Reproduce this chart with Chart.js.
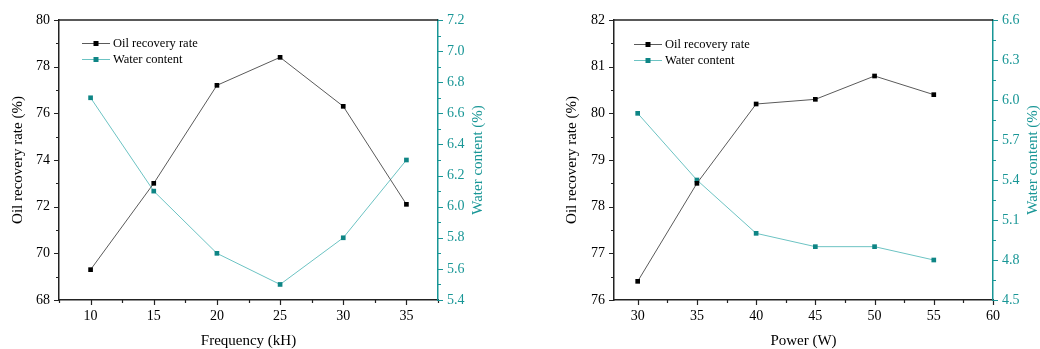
<!DOCTYPE html>
<html>
<head>
<meta charset="utf-8">
<script src="https://cdn.jsdelivr.net/npm/chart.js@4.4.1/dist/chart.umd.min.js"></script>
<style>
  body { margin: 0; background: #fff; }
  .wrap { display: flex; width: 1040px; height: 349px; }
  canvas { display: block; }
</style>
</head>
<body>
<div class="wrap">
  <canvas id="chartFreq" width="520" height="349"></canvas>
  <canvas id="chartPower" width="520" height="349"></canvas>
</div>
<script>
// 데이터 ---------------------------------------------------------------
const freq = [10, 15, 20, 25, 30, 35];
const oilFreq = [69.3, 73.0, 77.2, 78.4, 76.3, 72.1];
const waterFreq = [6.7, 6.1, 5.7, 5.5, 5.8, 6.3];

const power = [30, 35, 40, 45, 50, 55];
const oilPower = [76.4, 78.5, 80.2, 80.3, 80.8, 80.4];
const waterPower = [5.9, 5.4, 5.0, 4.9, 4.9, 4.8];

// tick labels (major) and minor tick marks
const freqTicks = [10, 15, 20, 25, 30, 35];
const freqMinor = [7.5, 12.5, 17.5, 22.5, 27.5, 32.5, 37.5];
const oilFreqTicks = [68, 70, 72, 74, 76, 78, 80];
const oilFreqMinor = [69, 71, 73, 75, 77, 79];
const waterFreqTicks = [5.4, 5.6, 5.8, 6.0, 6.2, 6.4, 6.6, 6.8, 7.0, 7.2];
const waterFreqMinor = [5.5, 5.7, 5.9, 6.1, 6.3, 6.5, 6.7, 6.9, 7.1];

const powerTicks = [30, 35, 40, 45, 50, 55, 60];
const powerMinor = [32.5, 37.5, 42.5, 47.5, 52.5, 57.5];
const oilPowerTicks = [76, 77, 78, 79, 80, 81, 82];
const oilPowerMinor = [76.5, 77.5, 78.5, 79.5, 80.5, 81.5];
const waterPowerTicks = [4.5, 4.8, 5.1, 5.4, 5.7, 6.0, 6.3, 6.6];
const waterPowerMinor = [4.65, 4.95, 5.25, 5.55, 5.85, 6.15, 6.45];

const TEAL = '#189696';
const TEAL_MARK = '#0e8585';
const TEAL_LINE = '#6cc3c3';
const FONT = "'Liberation Serif', 'Times New Roman', serif";

// 눈금, 테두리, 범례, 오른쪽 축 제목 그리기
const decorations = {
  id: 'decorations',
  afterDraw(chart, args, opts) {
    const ctx = chart.ctx;
    const a = chart.chartArea;
    ctx.save();

    // top frame
    ctx.lineWidth = 1.5;
    ctx.strokeStyle = '#222';
    ctx.beginPath();
    ctx.moveTo(a.left, Math.round(a.top));
    ctx.lineTo(a.right, Math.round(a.top));
    ctx.stroke();

    // tick marks
    ctx.lineWidth = 1.2;
    const drawMarks = (scale, values, len, color) => {
      ctx.strokeStyle = color;
      ctx.beginPath();
      for (const v of values) {
        const p = Math.round(scale.getPixelForValue(v)) + 0.5;
        if (scale.axis === 'x') {
          ctx.moveTo(p, a.bottom);
          ctx.lineTo(p, a.bottom + len);
        } else if (scale.position === 'left') {
          ctx.moveTo(a.left, p);
          ctx.lineTo(a.left - len, p);
        } else {
          ctx.moveTo(a.right, p);
          ctx.lineTo(a.right + len, p);
        }
      }
      ctx.stroke();
    };
    for (const m of opts.marks) {
      const s = chart.scales[m.id];
      drawMarks(s, m.major, 5, m.color);
      drawMarks(s, m.minor, 3, m.color);
    }

    // legend
    ctx.lineWidth = 1;
    ctx.font = '12.5px ' + FONT;
    ctx.textBaseline = 'middle';
    chart.data.datasets.forEach((ds, i) => {
      const y = opts.legend.y + i * 16;
      const x = opts.legend.x;
      ctx.strokeStyle = ds.borderColor;
      ctx.beginPath();
      ctx.moveTo(x, y + 0.5);
      ctx.lineTo(x + 28, y + 0.5);
      ctx.stroke();
      ctx.fillStyle = ds.pointBackgroundColor;
      ctx.fillRect(x + 11.5, y - 2, 5, 5);
      ctx.fillStyle = '#000';
      ctx.textAlign = 'left';
      ctx.fillText(ds.label, x + 31, y + 1);
    });

    // right axis title (bottom to top)
    ctx.fillStyle = TEAL;
    ctx.font = '15px ' + FONT;
    ctx.textAlign = 'center';
    ctx.textBaseline = 'middle';
    ctx.translate(opts.rightTitle.x, (a.top + a.bottom) / 2);
    ctx.rotate(-Math.PI / 2);
    ctx.fillText(opts.rightTitle.text, 0, 0);
    ctx.restore();
  }
};

function makeChart(id, cfg) {
  const toXY = (xs, ys) => xs.map((x, i) => ({ x: x, y: ys[i] }));
  const fixTicks = (vals) => (s) => { s.ticks = vals.map(v => ({ value: v })); };
  const fitW = (w) => (s) => { s.width = w; };

  return new Chart(document.getElementById(id), {
    type: 'line',
    data: {
      datasets: [{
        label: 'Oil recovery rate',
        data: toXY(cfg.x, cfg.oil),
        yAxisID: 'y',
        borderColor: '#5a5a5a',
        borderWidth: 1,
        pointStyle: 'rect',
        pointRadius: 3.3,
        pointBackgroundColor: '#000',
        pointBorderWidth: 0,
        tension: 0,
      }, {
        label: 'Water content',
        data: toXY(cfg.x, cfg.water),
        yAxisID: 'y2',
        borderColor: TEAL_LINE,
        borderWidth: 1,
        pointStyle: 'rect',
        pointRadius: 3.3,
        pointBackgroundColor: TEAL_MARK,
        pointBorderWidth: 0,
        tension: 0,
      }]
    },
    options: {
      responsive: false,
      animation: false,
      layout: { padding: { top: 20, left: 0, right: 0, bottom: 0 } },
      plugins: {
        legend: { display: false },
        tooltip: { enabled: false },
        decorations: {
          legend: cfg.legend,
          rightTitle: { x: cfg.rightTitleX, text: 'Water content (%)' },
          marks: [
            { id: 'x', major: cfg.xTicks, minor: cfg.xMinor, color: '#222' },
            { id: 'y', major: cfg.yTicks, minor: cfg.yMinor, color: '#222' },
            { id: 'y2', major: cfg.y2Ticks, minor: cfg.y2Minor, color: TEAL },
          ]
        }
      },
      scales: {
        x: {
          type: 'linear',
          min: cfg.xMin, max: cfg.xMax,
          afterBuildTicks: fixTicks(cfg.xTicks),
          afterFit: (s) => { s.height = 49; },
          grid: { display: false, drawTicks: false },
          border: { display: true, color: '#222', width: 1.5 },
          ticks: {
            autoSkip: false, maxRotation: 0, padding: 8,
            color: '#000', font: { family: FONT, size: 14 }
          },
          title: {
            display: true, text: cfg.xTitle, color: '#000',
            font: { family: FONT, size: 15, lineHeight: 1 },
            padding: { top: 0, bottom: 0 }
          }
        },
        y: {
          position: 'left',
          min: cfg.yMin, max: cfg.yMax,
          afterBuildTicks: fixTicks(cfg.yTicks),
          afterFit: fitW(cfg.yWidth),
          grid: { display: false, drawTicks: false },
          border: { display: true, color: '#222', width: 1.5 },
          ticks: {
            autoSkip: false, padding: 9,
            color: '#000', font: { family: FONT, size: 14 }
          },
          title: {
            display: true, text: 'Oil recovery rate (%)', color: '#000',
            font: { family: FONT, size: 15, lineHeight: 1.2 },
            padding: { top: cfg.yTitlePad, bottom: 0 }
          }
        },
        y2: {
          position: 'right',
          min: cfg.y2Min, max: cfg.y2Max,
          afterBuildTicks: fixTicks(cfg.y2Ticks),
          afterFit: fitW(cfg.y2Width),
          grid: { display: false, drawTicks: false },
          border: { display: true, color: TEAL, width: 1.5 },
          ticks: {
            autoSkip: false, padding: 9,
            color: TEAL, font: { family: FONT, size: 14 },
            callback: (v) => Number(v).toFixed(1)
          }
        }
      }
    },
    plugins: [decorations]
  });
}

makeChart('chartFreq', {
  x: freq, oil: oilFreq, water: waterFreq,
  xMin: 7.5, xMax: 37.5, xTicks: freqTicks, xMinor: freqMinor,
  yMin: 68, yMax: 80, yTicks: oilFreqTicks, yMinor: oilFreqMinor,
  y2Min: 5.4, y2Max: 7.2, y2Ticks: waterFreqTicks, y2Minor: waterFreqMinor,
  xTitle: 'Frequency (kH)',
  yWidth: 59, y2Width: 82, yTitlePad: 9,
  legend: { x: 82, y: 43 },
  rightTitleX: 478
});

makeChart('chartPower', {
  x: power, oil: oilPower, water: waterPower,
  xMin: 28, xMax: 60, xTicks: powerTicks, xMinor: powerMinor,
  yMin: 76, yMax: 82, yTicks: oilPowerTicks, yMinor: oilPowerMinor,
  y2Min: 4.5, y2Max: 6.6, y2Ticks: waterPowerTicks, y2Minor: waterPowerMinor,
  xTitle: 'Power (W)',
  yWidth: 94, y2Width: 47, yTitlePad: 43,
  legend: { x: 114, y: 44 },
  rightTitleX: 513
});
</script>
</body>
</html>
